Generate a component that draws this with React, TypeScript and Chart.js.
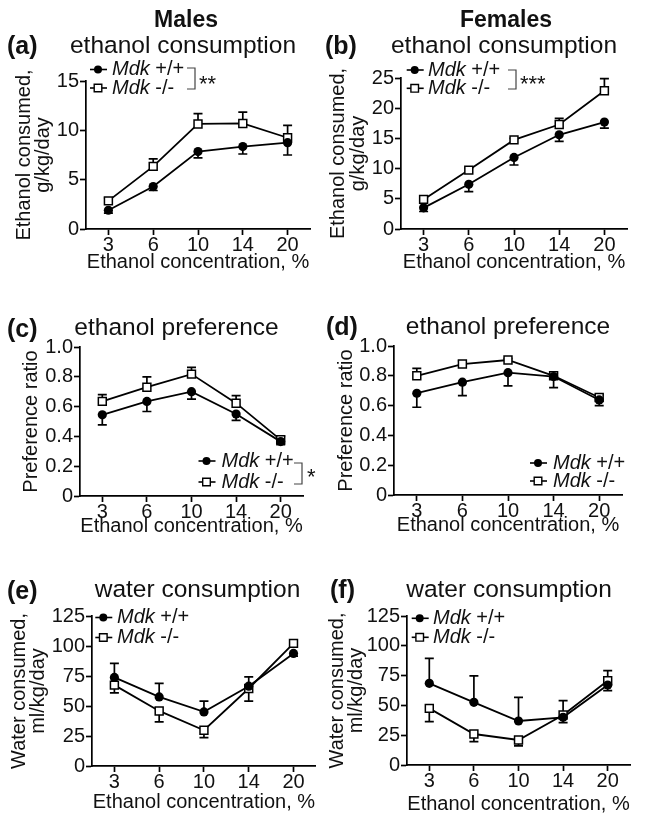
import React, { useEffect, useRef } from "react";
import { Chart, registerables } from "chart.js";

Chart.register(...registerables);

// ---------- data ----------
const concentrations = ["3", "6", "10", "14", "20"];

// (a) males, ethanol consumption g/kg/day
const maleConsumptionWt = [1.9, 4.3, 7.85, 8.35, 8.75];
const maleConsumptionWtErr = [1.6, 3.9, 7.2, 7.6, 7.5];
const maleConsumptionKo = [2.85, 6.35, 10.65, 10.7, 9.25];
const maleConsumptionKoErr = [3.15, 7.1, 11.7, 11.85, 10.5];

// (b) females, ethanol consumption g/kg/day
const femaleConsumptionWt = [3.5, 7.4, 11.85, 15.6, 17.7];
const femaleConsumptionWtErr = [2.9, 6.2, 10.6, 14.5, 16.7];
const femaleConsumptionKo = [4.9, 9.75, 14.75, 17.3, 22.9];
const femaleConsumptionKoErr = [5.2, 10.1, 15.0, 18.3, 24.9];

// (c) males, preference ratio
const malePreferenceWt = [0.545, 0.635, 0.7, 0.55, 0.365];
const malePreferenceWtErr = [0.478, 0.567, 0.65, 0.507, 0.345];
const malePreferenceKo = [0.635, 0.73, 0.818, 0.623, 0.377];
const malePreferenceKoErr = [0.68, 0.8, 0.863, 0.673, 0.4];

// (d) females, preference ratio
const femalePreferenceWt = [0.683, 0.757, 0.821, 0.795, 0.638];
const femalePreferenceWtErr = [0.589, 0.667, 0.732, 0.72, 0.6];
const femalePreferenceKo = [0.8, 0.879, 0.906, 0.8, 0.654];
const femalePreferenceKoErr = [0.85, 0.9, 0.915, 0.817, 0.672];

// (e) males, water consumption ml/kg/day
const maleWaterWt = [73.8, 57.6, 45.1, 66.5, 93.8];
const maleWaterWtErr = [85.5, 68.8, 54.0, 74.3, 91.5];
const maleWaterKo = [67.4, 45.9, 29.8, 64.6, 102.2];
const maleWaterKoErr = [61, 36.7, 23.7, 54, 105];

// (f) females, water consumption ml/kg/day
const femaleWaterWt = [68.5, 52.6, 36.9, 40.0, 67.1];
const femaleWaterWtErr = [89.5, 74.7, 56.8, 35.5, 62.4];
const femaleWaterKo = [47.5, 26, 21, 42.0, 70.7];
const femaleWaterKoErr = [36.4, 19.6, 16, 54, 79.1];

// tick labels
const maleConsumptionTicks = ["0", "5", "10", "15"];
const femaleConsumptionTicks = ["0", "5", "10", "15", "20", "25"];
const preferenceTicks = ["0", "0.2", "0.4", "0.6", "0.8", "1.0"];
const waterTicks = ["0", "25", "50", "75", "100", "125"];

const legendWt = ["Mdk", " +/+"];
const legendKo = ["Mdk", " -/-"];
const xTitle = "Ethanol concentration, %";

// ---------- styling ----------
const FONT = '"Liberation Sans", Arial, Helvetica, sans-serif';
const INK = "#111";

type Series = { values: number[]; errEnds: number[]; filled: boolean };
type Panel = {
  colLeft: number;
  rowTop: number;
  plot: { l: number; r: number; t: number; b: number };
  yMax: number;
  yStep: number;
  yTicks: string[];
  yTitle: string[];
  yTitlePad: number;
  xTitlePad: number;
  header?: { text: string; x: number; y: number };
  letter: { text: string; x: number; y: number };
  title: { text: string; x: number; y: number };
  legend: { mx: number; tx: number; y1: number; y2: number };
  sig?: { x: number; top: number; bottom: number; text: string; tx: number; ty: number };
  series: Series[];
};

const panels: Panel[] = [
  {
    colLeft: 0, rowTop: 0,
    plot: { l: 86, r: 310, t: 81, b: 229 },
    yMax: 15, yStep: 5, yTicks: maleConsumptionTicks,
    yTitle: ["Ethanol consumed,", "g/kg/day"], yTitlePad: 14.25, xTitlePad: 6.5,
    header: { text: "Males", x: 186, y: 27 },
    letter: { text: "(a)", x: 7, y: 54 },
    title: { text: "ethanol consumption", x: 183, y: 53 },
    legend: { mx: 98, tx: 112, y1: 69.5, y2: 88 },
    sig: { x: 195, top: 68, bottom: 89, text: "**", tx: 199, ty: 91 },
    series: [
      { values: maleConsumptionWt, errEnds: maleConsumptionWtErr, filled: true },
      { values: maleConsumptionKo, errEnds: maleConsumptionKoErr, filled: false },
    ],
  },
  {
    colLeft: 323, rowTop: 0,
    plot: { l: 401, r: 627, t: 78, b: 229 },
    yMax: 25, yStep: 5, yTicks: femaleConsumptionTicks,
    yTitle: ["Ethanol consumed,", "g/kg/day"], yTitlePad: 5.85, xTitlePad: 6.5,
    header: { text: "Females", x: 506, y: 27 },
    letter: { text: "(b)", x: 325, y: 54 },
    title: { text: "ethanol consumption", x: 504, y: 53 },
    legend: { mx: 414.7, tx: 428, y1: 70, y2: 88.3 },
    sig: { x: 516, top: 70, bottom: 89, text: "***", tx: 520, ty: 91 },
    series: [
      { values: femaleConsumptionWt, errEnds: femaleConsumptionWtErr, filled: true },
      { values: femaleConsumptionKo, errEnds: femaleConsumptionKoErr, filled: false },
    ],
  },
  {
    colLeft: 0, rowTop: 290,
    plot: { l: 80, r: 303, t: 347, b: 496 },
    yMax: 1, yStep: 0.2, yTicks: preferenceTicks,
    yTitle: ["Preference ratio"], yTitlePad: 21.25, xTitlePad: 10,
    letter: { text: "(c)", x: 7, y: 337 },
    title: { text: "ethanol preference", x: 176.5, y: 335 },
    legend: { mx: 206.5, tx: 221.5, y1: 461, y2: 482 },
    sig: { x: 302, top: 463, bottom: 484, text: "*", tx: 307, ty: 484 },
    series: [
      { values: malePreferenceWt, errEnds: malePreferenceWtErr, filled: true },
      { values: malePreferenceKo, errEnds: malePreferenceKoErr, filled: false },
    ],
  },
  {
    colLeft: 323, rowTop: 290,
    plot: { l: 394, r: 622, t: 346, b: 495 },
    yMax: 1, yStep: 0.2, yTicks: preferenceTicks,
    yTitle: ["Preference ratio"], yTitlePad: 13.25, xTitlePad: 10,
    letter: { text: "(d)", x: 326, y: 335 },
    title: { text: "ethanol preference", x: 508, y: 334 },
    legend: { mx: 538, tx: 553, y1: 463, y2: 481 },
    series: [
      { values: femalePreferenceWt, errEnds: femalePreferenceWtErr, filled: true },
      { values: femalePreferenceKo, errEnds: femalePreferenceKoErr, filled: false },
    ],
  },
  {
    colLeft: 0, rowTop: 555,
    plot: { l: 92, r: 317, t: 616, b: 766 },
    yMax: 125, yStep: 25, yTicks: waterTicks,
    yTitle: ["Water consumed,", "ml/kg/day"], yTitlePad: 9.25, xTitlePad: 3.5,
    letter: { text: "(e)", x: 7, y: 599 },
    title: { text: "water consumption", x: 197.5, y: 597 },
    legend: { mx: 103.3, tx: 117, y1: 617.5, y2: 637.5 },
    series: [
      { values: maleWaterWt, errEnds: maleWaterWtErr, filled: true },
      { values: maleWaterKo, errEnds: maleWaterKoErr, filled: false },
    ],
  },
  {
    colLeft: 323, rowTop: 555,
    plot: { l: 407, r: 630, t: 616, b: 765 },
    yMax: 125, yStep: 25, yTicks: waterTicks,
    yTitle: ["Water consumed,", "ml/kg/day"], yTitlePad: 4.25, xTitlePad: 1,
    letter: { text: "(f)", x: 330, y: 598 },
    title: { text: "water consumption", x: 509, y: 597 },
    legend: { mx: 419.7, tx: 433, y1: 618.3, y2: 637.3 },
    series: [
      { values: femaleWaterWt, errEnds: femaleWaterWtErr, filled: true },
      { values: femaleWaterKo, errEnds: femaleWaterKoErr, filled: false },
    ],
  },
];

const X_SCALE_H = 50;
const PANEL_W = 323;

function drawMarker(ctx: CanvasRenderingContext2D, x: number, y: number, filled: boolean) {
  ctx.beginPath();
  if (filled) {
    ctx.arc(x, y, 4, 0, Math.PI * 2);
    ctx.fillStyle = "#000";
    ctx.fill();
  } else {
    ctx.rect(x - 3.8, y - 3.8, 7.6, 7.6);
    ctx.fillStyle = "#fff";
    ctx.fill();
    ctx.lineWidth = 1.4;
    ctx.strokeStyle = "#000";
    ctx.stroke();
  }
}

function makeDecor(p: Panel) {
  return {
    id: "decor",
    beforeDatasetsDraw(chart: any) {
      const ctx: CanvasRenderingContext2D = chart.ctx;
      const xs = chart.scales.x;
      const ys = chart.scales.y;
      ctx.save();
      ctx.strokeStyle = "#000";
      ctx.lineWidth = 1.7;
      p.series.forEach((s) => {
        s.values.forEach((v, i) => {
          const x = xs.getPixelForValue(i);
          const y0 = ys.getPixelForValue(v);
          const y1 = ys.getPixelForValue(s.errEnds[i]);
          ctx.beginPath();
          ctx.moveTo(x, y0);
          ctx.lineTo(x, y1);
          ctx.moveTo(x - 4.5, y1);
          ctx.lineTo(x + 4.5, y1);
          ctx.stroke();
        });
      });
      ctx.restore();
    },
    afterDraw(chart: any) {
      const ctx: CanvasRenderingContext2D = chart.ctx;
      const ox = p.colLeft;
      const oy = p.rowTop;
      ctx.save();
      ctx.fillStyle = INK;
      ctx.textBaseline = "alphabetic";
      if (p.header) {
        ctx.font = `bold 23px ${FONT}`;
        ctx.textAlign = "center";
        ctx.fillText(p.header.text, p.header.x - ox, p.header.y - oy);
      }
      ctx.font = `bold 25px ${FONT}`;
      ctx.textAlign = "left";
      ctx.fillText(p.letter.text, p.letter.x - ox, p.letter.y - oy);
      ctx.font = `24.5px ${FONT}`;
      ctx.textAlign = "center";
      ctx.fillText(p.title.text, p.title.x - ox, p.title.y - oy);

      // legend
      const rows: [string[], number, boolean][] = [
        [legendWt, p.legend.y1, true],
        [legendKo, p.legend.y2, false],
      ];
      rows.forEach(([txt, y, filled]) => {
        const mx = p.legend.mx - ox;
        const yy = y - oy;
        ctx.strokeStyle = "#000";
        ctx.lineWidth = 1.6;
        ctx.beginPath();
        ctx.moveTo(mx - 8, yy);
        ctx.lineTo(mx + 9, yy);
        ctx.stroke();
        drawMarker(ctx, mx, yy, filled);
        ctx.fillStyle = INK;
        ctx.textAlign = "left";
        ctx.textBaseline = "middle";
        ctx.font = `italic 20px ${FONT}`;
        const tx = p.legend.tx - ox;
        ctx.fillText(txt[0], tx, yy);
        const w = ctx.measureText(txt[0]).width;
        ctx.font = `20px ${FONT}`;
        ctx.fillText(txt[1], tx + w, yy);
      });

      if (p.sig) {
        const s = p.sig;
        ctx.strokeStyle = "#444";
        ctx.lineWidth = 1.2;
        ctx.beginPath();
        ctx.moveTo(s.x - 8 - ox, s.top - oy);
        ctx.lineTo(s.x - ox, s.top - oy);
        ctx.lineTo(s.x - ox, s.bottom - oy);
        ctx.lineTo(s.x - 8 - ox, s.bottom - oy);
        ctx.stroke();
        ctx.fillStyle = INK;
        ctx.textBaseline = "alphabetic";
        ctx.textAlign = "left";
        ctx.font = `22px ${FONT}`;
        ctx.fillText(s.text, s.tx - ox, s.ty - oy);
      }
      ctx.restore();
    },
  };
}

function PanelChart({ p }: { p: Panel }) {
  const ref = useRef<HTMLCanvasElement | null>(null);
  const height = p.plot.b + X_SCALE_H - p.rowTop;
  const yWidth = p.plot.l - p.colLeft;

  useEffect(() => {
    if (!ref.current) return;
    const axisStyle = {
      grid: {
        display: true,
        drawOnChartArea: false,
        drawTicks: true,
        tickLength: 6,
        tickWidth: 1.7,
        tickColor: "#000",
        offset: false,
      },
      border: { display: true, color: "#000", width: 1.7 },
    };
    const chart = new Chart(ref.current, {
      type: "line",
      data: {
        labels: concentrations,
        datasets: p.series.map((s) => ({
          data: s.values,
          borderColor: "#000",
          borderWidth: 1.8,
          tension: 0,
          pointStyle: s.filled ? "circle" : "rect",
          pointRadius: s.filled ? 4.6 : 5.6,
          pointBackgroundColor: s.filled ? "#000" : "#fff",
          pointBorderColor: "#000",
          pointBorderWidth: s.filled ? 0 : 1.5,
          fill: false,
          clip: false as any,
        })),
      },
      options: {
        responsive: false,
        animation: false,
        events: [],
        layout: {
          padding: {
            top: p.plot.t - p.rowTop,
            left: 0,
            right: p.colLeft + PANEL_W - p.plot.r,
            bottom: 0,
          },
        },
        plugins: {
          legend: { display: false },
          title: { display: false },
          tooltip: { enabled: false },
        },
        scales: {
          x: {
            type: "category",
            offset: true,
            ...axisStyle,
            ticks: {
              color: INK,
              padding: 0,
              maxRotation: 0,
              autoSkip: false,
              font: { family: FONT, size: 20, lineHeight: 1 },
            },
            title: {
              display: true,
              text: xTitle,
              color: INK,
              font: { family: FONT, size: 20, lineHeight: 1 },
              padding: { top: 0, bottom: p.xTitlePad },
            },
            afterFit: (scale: any) => {
              scale.height = X_SCALE_H;
            },
          },
          y: {
            type: "linear",
            min: 0,
            max: p.yMax,
            ...axisStyle,
            ticks: {
              color: INK,
              padding: 1,
              stepSize: p.yStep,
              font: { family: FONT, size: 20, lineHeight: 1 },
              callback: (_v: any, i: number) => p.yTicks[i],
            },
            title: {
              display: true,
              text: p.yTitle.length === 1 ? p.yTitle[0] : p.yTitle,
              color: INK,
              font: { family: FONT, size: 20, lineHeight: 0.975 },
              padding: { top: p.yTitlePad, bottom: 0 },
            },
            afterFit: (scale: any) => {
              scale.width = yWidth;
            },
          },
        },
      } as any,
      plugins: [makeDecor(p)],
    });
    return () => chart.destroy();
  }, []);

  return (
    <div style={{ position: "absolute", left: p.colLeft, top: p.rowTop, width: PANEL_W, height }}>
      <canvas ref={ref} width={PANEL_W} height={height} style={{ width: PANEL_W, height, display: "block" }} />
    </div>
  );
}

export default function App() {
  return (
    <div style={{ position: "absolute", left: 0, top: 0, width: 646, height: 822, background: "#fff", overflow: "hidden" }}>
      {panels.map((p, i) => (
        <PanelChart key={i} p={p} />
      ))}
    </div>
  );
}
